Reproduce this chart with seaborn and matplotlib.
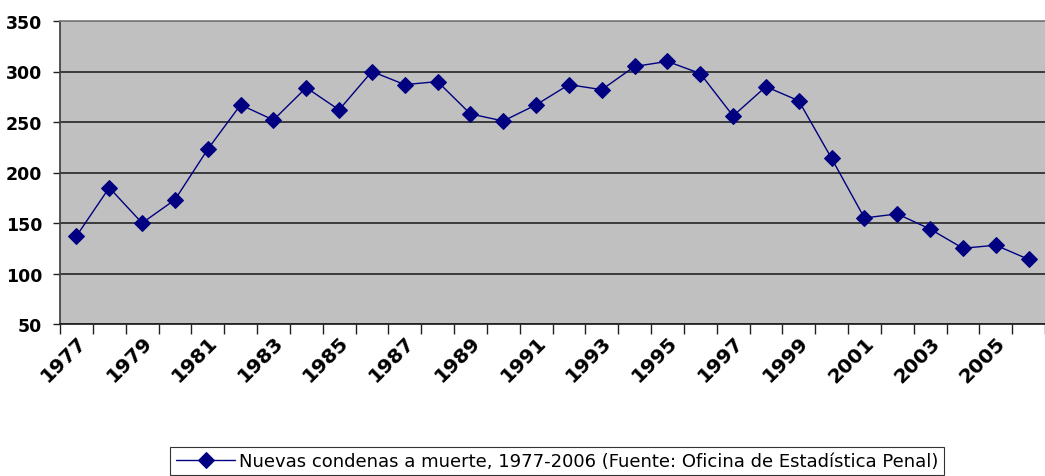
import numpy as np
import pandas as pd
import seaborn as sns
import matplotlib
matplotlib.use("Agg")
import matplotlib.pyplot as plt
from matplotlib.ticker import FixedLocator

years = list(range(1977, 2007))
sentences = [137, 185, 150, 173, 223, 267, 252, 284, 262, 300,
             287, 290, 258, 251, 267, 287, 282, 305, 310, 298,
             256, 285, 271, 214, 155, 159, 144, 125, 128, 114]
label_years = list(range(1977, 2006, 2))
series_name = "Nuevas condenas a muerte, 1977-2006 (Fuente: Oficina de Estadística Penal)"

sns.set_theme(style="white")
plt.rcParams["font.family"] = ["DejaVu Sans"]
plt.rcParams["text.color"] = "black"
plt.rcParams["xtick.color"] = "black"
plt.rcParams["ytick.color"] = "black"

df = pd.DataFrame({"year": years, "value": sentences})

fig = plt.figure(figsize=(10.45, 4.77), dpi=100)
ax = fig.add_axes([60 / 1045, 1 - 325 / 477, 1 - 60 / 1045, 303 / 477])
ax.set_facecolor("#C0C0C0")

sns.lineplot(data=df, x="year", y="value", ax=ax, color="#000080", linewidth=1,
             marker="D", markersize=8, markeredgecolor="#000080", label=series_name,
             legend=False)

ax.set_xlim(1976.5, 2006.5)
ax.set_ylim(50, 350)
ax.set_yticks(range(50, 351, 50))
ax.yaxis.grid(True, color="#303030", linewidth=1.3)
ax.set_axisbelow(True)

ax.set_xticks(label_years)
ax.set_xticklabels([str(y) for y in label_years], rotation=45, ha="right",
                   rotation_mode="anchor", fontsize=14.5, fontweight="bold")
ax.xaxis.set_minor_locator(FixedLocator(np.arange(1976.5, 2007, 1)))
ax.tick_params(axis="x", which="major", length=0, pad=6)
ax.tick_params(axis="x", which="minor", length=7, width=1, color="#202020", bottom=True)
ax.tick_params(axis="y", length=5, width=1, color="#202020", left=True, pad=8,
               labelsize=12.5)
for t in ax.get_yticklabels():
    t.set_fontweight("bold")

ax.set_xlabel("")
ax.set_ylabel("")
ax.spines["top"].set_color("#808080")
ax.spines["top"].set_linewidth(1.3)
ax.spines["left"].set_color("#404040")
ax.spines["bottom"].set_color("#202020")
ax.spines["right"].set_visible(False)

handles, labels = ax.get_legend_handles_labels()
leg = fig.legend(handles, labels, loc="center", bbox_to_anchor=(557 / 1045, 1 - 462 / 477),
                 fontsize=13, frameon=True, fancybox=False, edgecolor="black",
                 handlelength=3.3, handletextpad=0.2, borderpad=0.3)
leg.get_frame().set_linewidth(0.8)

fig.savefig("out.png", dpi=100)
